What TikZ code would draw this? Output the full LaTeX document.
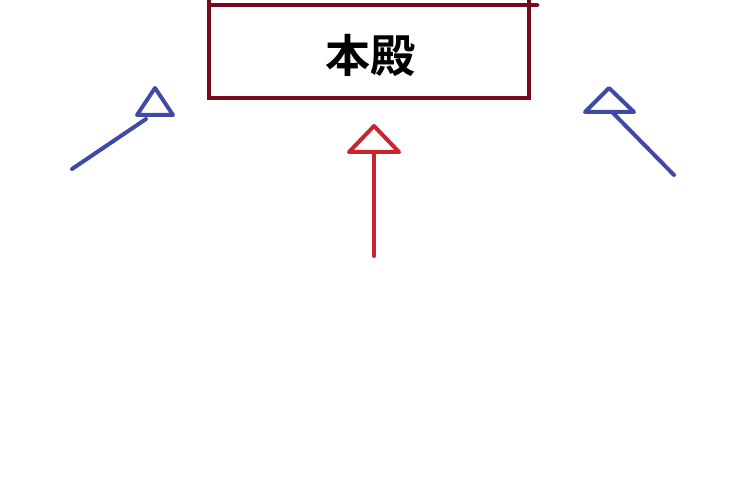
\documentclass[tikz,border=0pt]{standalone}
\usepackage{fontspec}
\newfontfamily\cjk{Noto Sans CJK JP Bold}
\definecolor{boxred}{HTML}{75091F}
\definecolor{arrred}{HTML}{C8252F}
\definecolor{arrblue}{HTML}{4049A8}
\begin{document}
\begin{tikzpicture}[x=1pt,y=-1pt,
  boxline/.style={draw=boxred,line width=4.5pt,line cap=round},
  redline/.style={draw=arrred,line width=4pt,line cap=round,line join=round},
  blueline/.style={draw=arrblue,line width=4pt,line cap=round,line join=round}]
\useasboundingbox[fill=white] (0,0) rectangle (750,500);
% box
\draw[boxline] (209,-5) -- (209,98) -- (529,98) -- (529,-5);
\draw[boxline] (209,5) -- (537,5);
\node[font=\cjk\fontsize{45}{45}\selectfont] (honden) at (370,55) {本殿};
% red arrow
\coordinate (rs) at (374,256);
\coordinate (re) at (374,152);
\draw[redline] (rs) -- (re);
\draw[redline] (374,126) -- (349,152) -- (399,152) -- cycle;
% left blue arrow
\coordinate (ls) at (72,169);
\coordinate (le) at (146,119);
\draw[blueline] (ls) -- (le);
\draw[blueline] (155,88) -- (137,115) -- (173,115) -- cycle;
% right blue arrow
\coordinate (rbs) at (674,175);
\coordinate (rbe) at (613,113);
\draw[blueline] (rbs) -- (rbe);
\draw[blueline] (609,88) -- (585,112) -- (634,112) -- cycle;
\end{tikzpicture}
\end{document}
